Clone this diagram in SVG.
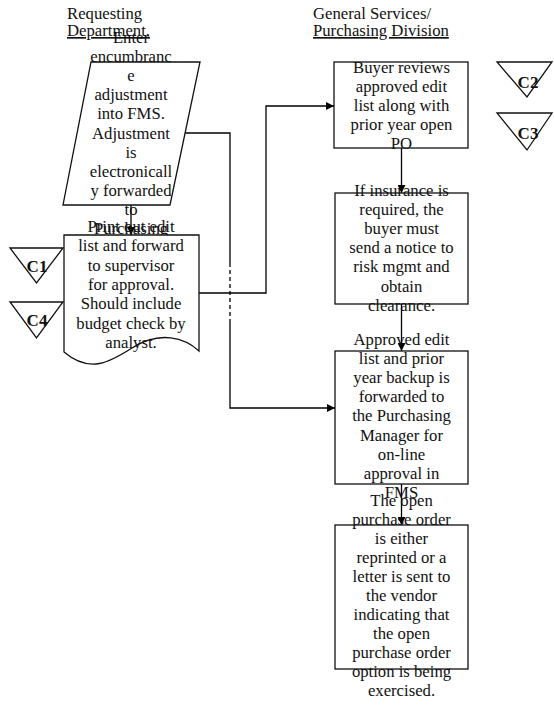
<svg xmlns="http://www.w3.org/2000/svg" width="554" height="705" viewBox="0 0 554 705">
  <style>
    .t { font-family: "Liberation Serif", "Times New Roman", serif; font-size: 16.7px; fill: #111; }
    .c { text-anchor: middle; }
    .h { text-decoration: underline; }
    .lbl { font-family: "Liberation Serif", "Times New Roman", serif; font-size: 17px; font-weight: bold; fill: #111; text-anchor: middle; }
    .shape { fill: #fff; stroke: #111; stroke-width: 1.3; }
    .tri { fill: none; stroke: #111; stroke-width: 1.3; }
    .wire { fill: none; stroke: #000; stroke-width: 1.3; }
    .dash { stroke-dasharray: 4 3; }
  </style>
  <defs>
    <marker id="arrow" markerUnits="userSpaceOnUse" markerWidth="9" markerHeight="8" viewBox="0 0 10 10" refX="10" refY="5" orient="auto">
      <path d="M0,0 L10,5 L0,10 z" fill="#000"/>
    </marker>
  </defs>

  <rect width="554" height="705" fill="#fff"/>

  <!-- swimlane headings -->
  <g id="heading-requesting">
    <text class="t" x="67" y="19">Requesting</text>
    <text class="t h" x="67" y="36">Department.</text>
  </g>
  <g id="heading-purchasing">
    <text class="t" x="313" y="19">General Services/</text>
    <text class="t h" x="313" y="36">Purchasing Division</text>
  </g>

  <!-- connectors -->
  <g id="connectors">
    <path class="wire" d="M131,205 V235" marker-end="url(#arrow)"/>
    <path class="wire" d="M185,133 H230 V263"/>
    <path class="wire dash" d="M230,263 V321"/>
    <path class="wire" d="M230,321 V408 H335" marker-end="url(#arrow)"/>
    <path class="wire" d="M199,293 H266 V106 H334" marker-end="url(#arrow)"/>
    <path class="wire" d="M401.5,148 V193" marker-end="url(#arrow)"/>
    <path class="wire" d="M401.5,304 V351" marker-end="url(#arrow)"/>
    <path class="wire" d="M401.5,484 V525" marker-end="url(#arrow)"/>
  </g>

  <!-- input: encumbrance adjustment -->
  <g id="enter-adjustment">
    <polygon class="shape" points="91,62 200,62 170,205 63,205"/>
    <text class="t c" x="131" y="43">Enter</text>
    <text class="t c" x="131" y="62.1">encumbranc</text>
    <text class="t c" x="131" y="81.2">e</text>
    <text class="t c" x="131" y="100.3">adjustment</text>
    <text class="t c" x="131" y="119.4">into FMS.</text>
    <text class="t c" x="131" y="138.5">Adjustment</text>
    <text class="t c" x="131" y="157.6">is</text>
    <text class="t c" x="131" y="176.7">electronicall</text>
    <text class="t c" x="131" y="195.8">y forwarded</text>
    <text class="t c" x="131" y="214.9">to</text>
    <text class="t c" x="131" y="234">Purchasing</text>
  </g>

  <!-- document: printed edit list -->
  <g id="print-edit-list">
    <path class="shape" d="M64,235 H199 V351 C185,338 160,330 132,348 C110,362 90,374 64,352 Z"/>
    <text class="t c" x="131" y="232">Print out edit</text>
    <text class="t c" x="131" y="251.3">list and forward</text>
    <text class="t c" x="131" y="270.6">to supervisor</text>
    <text class="t c" x="131" y="289.9">for approval.</text>
    <text class="t c" x="131" y="309.2">Should include</text>
    <text class="t c" x="131" y="328.5">budget check by</text>
    <text class="t c" x="131" y="347.8">analyst.</text>
  </g>

  <!-- control markers -->
  <g id="c1">
    <polygon class="tri" points="10,248 63,248 36.5,283"/>
    <text class="lbl" x="37" y="272">C1</text>
  </g>
  <g id="c4">
    <polygon class="tri" points="10,302 63,302 36.5,338"/>
    <text class="lbl" x="37" y="326">C4</text>
  </g>
  <g id="c2">
    <polygon class="tri" points="497,62 552,62 527,97"/>
    <text class="lbl" x="528" y="88">C2</text>
  </g>
  <g id="c3">
    <polygon class="tri" points="497,113 552,113 527,150"/>
    <text class="lbl" x="528" y="139">C3</text>
  </g>

  <!-- purchasing steps -->
  <g id="buyer-review">
    <rect class="shape" x="334" y="62" width="134" height="86"/>
    <text class="t c" x="401.5" y="72.5">Buyer reviews</text>
    <text class="t c" x="401.5" y="91.6">approved edit</text>
    <text class="t c" x="401.5" y="110.7">list along with</text>
    <text class="t c" x="401.5" y="129.8">prior year open</text>
    <text class="t c" x="401.5" y="148.9">PO</text>
  </g>

  <g id="insurance-check">
    <rect class="shape" x="335" y="193" width="133" height="111"/>
    <text class="t c" x="401.5" y="196">If insurance is</text>
    <text class="t c" x="401.5" y="215.1">required, the</text>
    <text class="t c" x="401.5" y="234.2">buyer must</text>
    <text class="t c" x="401.5" y="253.3">send a notice to</text>
    <text class="t c" x="401.5" y="272.4">risk mgmt and</text>
    <text class="t c" x="401.5" y="291.5">obtain</text>
    <text class="t c" x="401.5" y="310.6">clearance.</text>
  </g>

  <g id="manager-approval">
    <rect class="shape" x="335" y="351" width="133" height="133"/>
    <text class="t c" x="401.5" y="345">Approved edit</text>
    <text class="t c" x="401.5" y="364.1">list and prior</text>
    <text class="t c" x="401.5" y="383.2">year backup is</text>
    <text class="t c" x="401.5" y="402.3">forwarded to</text>
    <text class="t c" x="401.5" y="421.4">the Purchasing</text>
    <text class="t c" x="401.5" y="440.5">Manager for</text>
    <text class="t c" x="401.5" y="459.6">on-line</text>
    <text class="t c" x="401.5" y="478.7">approval in</text>
    <text class="t c" x="401.5" y="497.8">FMS</text>
  </g>

  <g id="reprint-or-letter">
    <rect class="shape" x="335" y="525" width="133" height="144"/>
    <text class="t c" x="401.5" y="506">The open</text>
    <text class="t c" x="401.5" y="525">purchase order</text>
    <text class="t c" x="401.5" y="543.9">is either</text>
    <text class="t c" x="401.5" y="562.9">reprinted or a</text>
    <text class="t c" x="401.5" y="581.8">letter is sent to</text>
    <text class="t c" x="401.5" y="600.8">the vendor</text>
    <text class="t c" x="401.5" y="619.7">indicating that</text>
    <text class="t c" x="401.5" y="638.7">the open</text>
    <text class="t c" x="401.5" y="657.6">purchase order</text>
    <text class="t c" x="401.5" y="676.6">option is being</text>
    <text class="t c" x="401.5" y="695.5">exercised.</text>
  </g>
</svg>
